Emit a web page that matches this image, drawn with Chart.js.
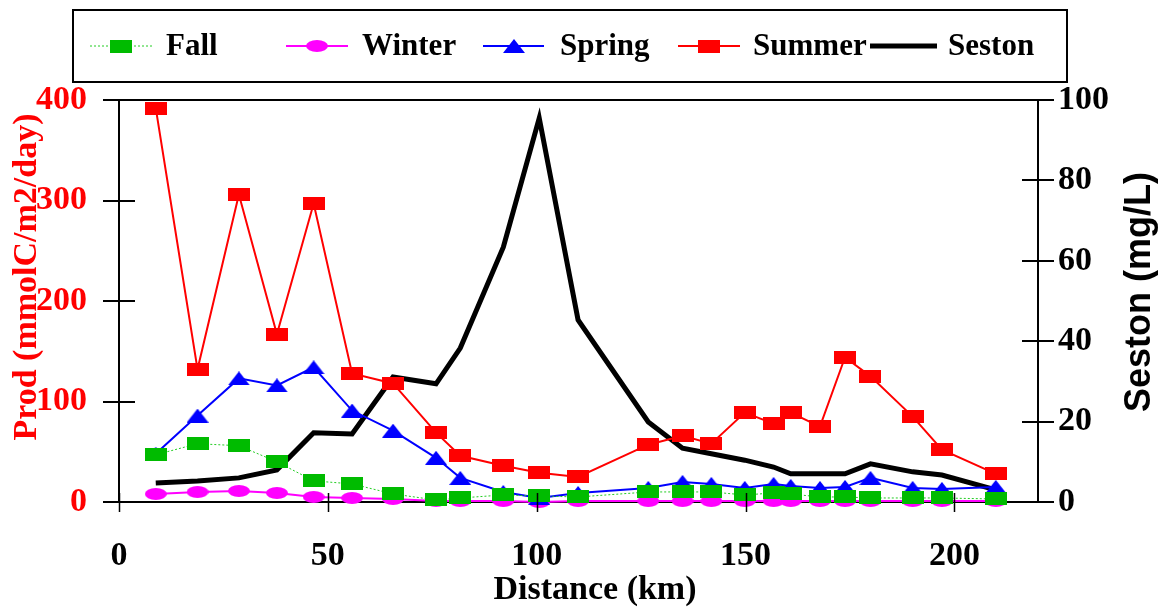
<!DOCTYPE html>
<html>
<head>
<meta charset="utf-8">
<script src="https://cdn.jsdelivr.net/npm/chart.js@4.4.1/dist/chart.umd.min.js"></script>
<style>
  body { margin: 0; background: #fff; }
</style>
</head>
<body>
<canvas id="chart" width="1166" height="609"></canvas>
<script>
// station distances along the river (km)
const distances = [8.8, 18.8, 28.7, 37.8, 46.6, 55.8, 65.6, 75.9, 81.7, 92.0, 100.6, 109.9,
  126.7, 134.9, 141.8, 149.8, 156.7, 160.8, 167.8, 173.8, 179.9, 190.0, 197.0, 209.9];

// production, mmolC/m2/day
const fall = [47, 58, 56, 40, 21, 18, 8, 2, 4, 7, 6, 5, 10, 10, 10, 7, 9, 8, 5, 5, 4, 4, 4, 3];
const winter = [8, 10, 11, 9, 5, 4, 3, 1, 1, 1, 0, 1, 1, 1, 1, 1, 1, 1, 1, 1, 1, 1, 1, 1];
const spring = [48, 86, 123, 116, 134, 91, 71, 44, 24, 10, 4, 9, 14, 20, 18, 14, 18, 16, 14, 15, 24, 14, 13, 15];
const summer = [392, 132, 306, 167, 297, 128, 118, 69, 46, 36, 29, 25, 57, 66, 58, 89, 78, 89, 75, 144, 125, 85, 52, 28];

// seston, mg/L
const seston = [4.7, 5.2, 6.0, 8.0, 17.2, 16.9, 31.1, 29.4, 38.3, 63.4, 95.5, 45.3,
  19.9, 13.4, 12.0, 10.4, 8.7, 7.0, 7.0, 7.0, 9.5, 7.5, 6.7, 3.0];

const xTicks = [0, 50, 100, 150, 200];

const SERIF = '"Liberation Serif", "Times New Roman", serif';
const SANS = '"Liberation Sans", Arial, sans-serif';

function marker(shape, color, w, h) {
  const c = document.createElement("canvas");
  c.width = w;
  c.height = h;
  const g = c.getContext("2d");
  g.fillStyle = color;
  g.beginPath();
  if (shape === "rect") {
    g.rect(0, 0, w, h);
  } else if (shape === "ellipse") {
    g.ellipse(w / 2, h / 2, w / 2, h / 2, 0, 0, Math.PI * 2);
  } else {
    g.moveTo(0, h);
    g.lineTo(w / 2, 0);
    g.lineTo(w, h);
    g.closePath();
  }
  g.fill();
  return c;
}

const series = [
  { label: "Fall", values: fall, line: "#22cc22", width: 1, dash: [2, 2], mark: marker("rect", "#00bb00", 22, 13), axis: "yL" },
  { label: "Spring", values: spring, line: "#0000ff", width: 2, dash: [], mark: marker("triangle", "#0000ff", 22, 14), axis: "yL" },
  { label: "Winter", values: winter, line: "#ff00ff", width: 2, dash: [], mark: marker("ellipse", "#ff00ff", 22, 12), axis: "yL" },
  { label: "Summer", values: summer, line: "#ff0000", width: 2, dash: [], mark: marker("rect", "#ff0000", 22, 13), axis: "yL" },
  { label: "Seston", values: seston, line: "#000000", width: 5, dash: [], mark: false, axis: "yR" }
];

const datasets = series.map(s => ({
  label: s.label,
  data: distances.map((d, i) => ({ x: d, y: s.values[i] })),
  yAxisID: s.axis,
  borderColor: s.line,
  borderWidth: s.width,
  borderDash: s.dash,
  pointStyle: s.mark,
  pointRadius: s.mark ? 6 : 0,
  pointHoverRadius: s.mark ? 6 : 0,
  tension: 0,
  fill: false,
  clip: false
}));

// legend order as in the figure
const legendItems = [
  { name: "Fall", x0: 90, x1: 152, mx: 121, tx: 166 },
  { name: "Winter", x0: 286, x1: 348, mx: 317, tx: 362 },
  { name: "Spring", x0: 483, x1: 544, mx: 514, tx: 560 },
  { name: "Summer", x0: 678, x1: 740, mx: 709, tx: 753 },
  { name: "Seston", x0: 870, x1: 937, mx: null, tx: 948 }
];

const decorations = {
  id: "decorations",
  afterDraw(chart) {
    const ctx = chart.ctx;
    const a = chart.chartArea;
    const sx = chart.scales.x, yL = chart.scales.yL, yR = chart.scales.yR;
    ctx.save();

    // frame top and crossing tick marks
    ctx.strokeStyle = "#000";
    ctx.lineWidth = 2;
    ctx.beginPath();
    ctx.moveTo(a.left - 16, a.top);
    ctx.lineTo(a.right + 16, a.top);
    yL.ticks.forEach(t => {
      const y = Math.round(yL.getPixelForValue(t.value));
      ctx.moveTo(a.left - 16, y);
      ctx.lineTo(a.left + 16, y);
    });
    yR.ticks.forEach(t => {
      const y = Math.round(yR.getPixelForValue(t.value));
      ctx.moveTo(a.right - 16, y);
      ctx.lineTo(a.right + 16, y);
    });
    ctx.stroke();
    ctx.lineWidth = 1.5;
    ctx.beginPath();
    sx.ticks.forEach(t => {
      const x = Math.round(sx.getPixelForValue(t.value)) + 0.5;
      ctx.moveTo(x, a.bottom - 9);
      ctx.lineTo(x, a.bottom + 10);
    });
    ctx.stroke();

    // axis titles
    ctx.fillStyle = "#ff0000";
    ctx.font = "bold 34px " + SERIF;
    ctx.textAlign = "center";
    ctx.textBaseline = "alphabetic";
    ctx.save();
    ctx.translate(36, 277);
    ctx.rotate(-Math.PI / 2);
    ctx.fillText("Prod (mmolC/m2/day)", 0, 0);
    ctx.restore();

    ctx.fillStyle = "#000";
    ctx.font = "bold 36px " + SANS;
    ctx.save();
    ctx.translate(1150, 292);
    ctx.rotate(-Math.PI / 2);
    ctx.fillText("Seston (mg/L)", 0, 0);
    ctx.restore();

    ctx.font = "bold 34px " + SERIF;
    ctx.fillText("Distance (km)", 595, 599);

    // legend box
    ctx.lineWidth = 2;
    ctx.strokeRect(73, 10, 994, 72);
    const ly = 46;
    legendItems.forEach(item => {
      const s = series.find(v => v.label === item.name);
      ctx.strokeStyle = s.line;
      ctx.lineWidth = s.width;
      ctx.setLineDash(s.dash);
      ctx.beginPath();
      ctx.moveTo(item.x0, ly);
      ctx.lineTo(item.x1, ly);
      ctx.stroke();
      ctx.setLineDash([]);
      if (s.mark) {
        ctx.drawImage(s.mark, item.mx - s.mark.width / 2, ly - s.mark.height / 2);
      }
      ctx.fillStyle = "#000";
      ctx.font = "bold 31px " + SERIF;
      ctx.textAlign = "left";
      ctx.textBaseline = "middle";
      ctx.fillText(item.name, item.tx, ly + 1);
    });

    ctx.restore();
  }
};

new Chart(document.getElementById("chart"), {
  type: "line",
  data: { datasets },
  options: {
    responsive: false,
    devicePixelRatio: 1,
    animation: false,
    events: [],
    layout: { padding: { top: 100, left: 0, right: 0, bottom: 0 } },
    plugins: {
      legend: { display: false },
      tooltip: { enabled: false }
    },
    scales: {
      x: {
        type: "linear",
        min: 0,
        max: 220,
        afterBuildTicks: axis => { axis.ticks = xTicks.map(v => ({ value: v })); },
        afterFit: axis => { axis.height = 107; },
        grid: { display: false },
        border: { display: true, color: "#000", width: 2 },
        ticks: {
          color: "#000",
          padding: 26,
          maxRotation: 0,
          autoSkip: false,
          font: { family: SERIF, size: 34, weight: "bold" }
        }
      },
      yL: {
        position: "left",
        min: 0,
        max: 400,
        afterFit: axis => { axis.width = 119; },
        grid: { display: false },
        border: { display: true, color: "#000", width: 2 },
        ticks: {
          stepSize: 100,
          color: "#ff0000",
          padding: 24,
          font: { family: SERIF, size: 34, weight: "bold" }
        }
      },
      yR: {
        position: "right",
        min: 0,
        max: 100,
        afterFit: axis => { axis.width = 128; },
        grid: { display: false },
        border: { display: true, color: "#000", width: 2 },
        ticks: {
          stepSize: 20,
          color: "#000",
          padding: 12,
          font: { family: SERIF, size: 34, weight: "bold" }
        }
      }
    }
  },
  plugins: [decorations]
});
</script>
</body>
</html>
